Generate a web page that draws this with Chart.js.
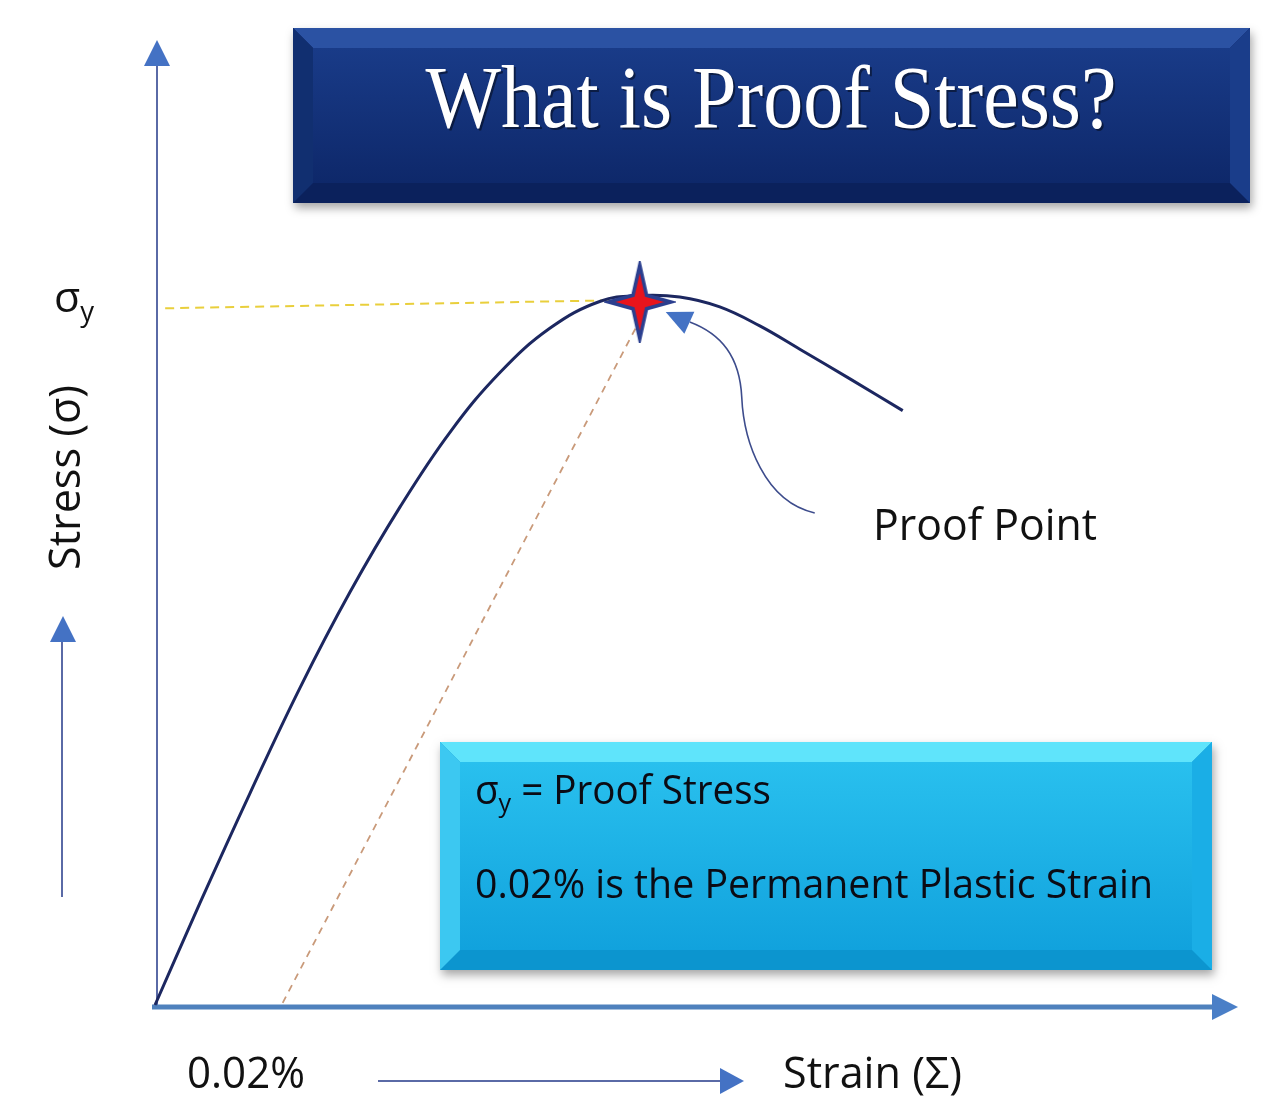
<!DOCTYPE html>
<html>
<head>
<meta charset="utf-8">
<title>What is Proof Stress?</title>
<script src="https://cdn.jsdelivr.net/npm/chart.js@4.4.1/dist/chart.umd.min.js"></script>
<style>
  html, body { margin: 0; padding: 0; background: #ffffff; }
  #wrap { width: 1264px; height: 1111px; position: relative; }
</style>
</head>
<body>
<div id="wrap"><canvas id="proofChart" width="1264" height="1111"></canvas></div>
<script>
// ── Data (strain in %, stress in arbitrary units, σy ≈ 100) ─────────────────
const strain = [0, 0.0071, 0.0150, 0.0228, 0.0307, 0.0386, 0.0464, 0.0543, 0.0622,
                0.0701, 0.0763, 0.0826, 0.0889, 0.0952, 0.1015, 0.1094, 0.1177];
const stress = [0, 14.5, 30.1, 44.9, 58.5, 70.6, 81.1, 89.6, 95.9,
                99.7, 100.5, 100.3, 98.9, 96.2, 92.9, 88.7, 84.2];

const yieldLineStrain = [0.0016, 0.0763];
const yieldLineStress = [98.7, 99.9];

const offsetLineStrain = [0.0201, 0.0763];
const offsetLineStress = [0.3, 97.0];

const proofStrain = [0.0763];
const proofStress = [99.6];

const strainMax = 0.17;
const stressMax = 136;

const FONT = "'Open Sans', 'Noto Sans', sans-serif";

// ── helpers ──────────────────────────────────────────────────────────────────
function zip(xs, ys) { return xs.map((x, i) => ({ x: x, y: ys[i] })); }

// draw runs of text squeezed to a target width (Calibri-like narrow look)
function drawRuns(ctx, runs, x, y, width, color) {
    let total = 0;
    runs.forEach(r => { ctx.font = r.size + 'px ' + (r.family || FONT); r.w = ctx.measureText(r.t).width; total += r.w; });
    const sx = width / total;
    ctx.save();
    ctx.translate(x, y);
    ctx.scale(sx, 1);
    ctx.fillStyle = color;
    ctx.textAlign = 'left';
    ctx.textBaseline = 'alphabetic';
    let cx = 0;
    runs.forEach(r => {
        ctx.font = r.size + 'px ' + (r.family || FONT);
        ctx.fillText(r.t, cx, r.dy || 0);
        cx += r.w;
    });
    ctx.restore();
}

function poly(ctx, pts, fill) {
    ctx.beginPath();
    ctx.moveTo(pts[0][0], pts[0][1]);
    for (let i = 1; i < pts.length; i++) ctx.lineTo(pts[i][0], pts[i][1]);
    ctx.closePath();
    ctx.fillStyle = fill;
    ctx.fill();
}

function bevelBox(ctx, x, y, w, h, b, c) {
    ctx.save();
    ctx.shadowColor = 'rgba(0,0,0,0.35)';
    ctx.shadowBlur = 9;
    ctx.shadowOffsetX = 2;
    ctx.shadowOffsetY = 5;
    ctx.fillStyle = c.bottom;
    ctx.fillRect(x, y, w, h);
    ctx.restore();
    poly(ctx, [[x, y], [x + w, y], [x + w - b, y + b], [x + b, y + b]], c.top);
    poly(ctx, [[x, y + h], [x + w, y + h], [x + w - b, y + h - b], [x + b, y + h - b]], c.bottom);
    poly(ctx, [[x, y], [x + b, y + b], [x + b, y + h - b], [x, y + h]], c.left);
    poly(ctx, [[x + w, y], [x + w - b, y + b], [x + w - b, y + h - b], [x + w, y + h]], c.right);
    const g = ctx.createLinearGradient(0, y + b, 0, y + h - b);
    g.addColorStop(0, c.face0);
    g.addColorStop(1, c.face1);
    ctx.fillStyle = g;
    ctx.fillRect(x + b, y + b, w - 2 * b, h - 2 * b);
}

function arrowHead(ctx, tipX, tipY, dirX, dirY, len, half, fill) {
    const n = Math.hypot(dirX, dirY);
    const ux = dirX / n, uy = dirY / n;
    const bx = tipX - ux * len, by = tipY - uy * len;
    ctx.beginPath();
    ctx.moveTo(tipX, tipY);
    ctx.lineTo(bx - uy * half, by + ux * half);
    ctx.lineTo(bx + uy * half, by - ux * half);
    ctx.closePath();
    ctx.fillStyle = fill;
    ctx.fill();
}

// 4-pointed star used as the proof point marker
function makeStar() {
    const c = document.createElement('canvas');
    c.width = 72; c.height = 82;
    const g = c.getContext('2d');
    const cx = 36, cy = 41, rv = 37, rh = 31, ri = 9;
    g.beginPath();
    g.moveTo(cx, cy - rv);
    g.lineTo(cx + ri * 0.75, cy - ri * 0.75);
    g.lineTo(cx + rh, cy);
    g.lineTo(cx + ri * 0.75, cy + ri * 0.75);
    g.lineTo(cx, cy + rv);
    g.lineTo(cx - ri * 0.75, cy + ri * 0.75);
    g.lineTo(cx - rh, cy);
    g.lineTo(cx - ri * 0.75, cy - ri * 0.75);
    g.closePath();
    g.fillStyle = '#e8141c';
    g.fill();
    g.lineWidth = 3.5;
    g.strokeStyle = '#2b3f8f';
    g.lineJoin = 'miter';
    g.stroke();
    return c;
}

// ── decorations plugin: boxes, axes arrows, labels ──────────────────────────
const decorations = {
    id: 'decorations',
    beforeDatasetsDraw(chart) {
        const ctx = chart.ctx;
        const xs = chart.scales.x, ys = chart.scales.y;
        const ox = xs.getPixelForValue(0), oy = ys.getPixelForValue(0);
        const top = chart.chartArea.top, right = chart.chartArea.right;

        // title box
        bevelBox(ctx, 293, 28, 957, 175, 20, {
            top: '#2b52a3', bottom: '#0b215c', left: '#112f70', right: '#1a3d8a',
            face0: '#193b88', face1: '#0e286a'
        });
        ctx.save();
        ctx.font = '80px "Liberation Serif", "Times New Roman", serif';
        ctx.textAlign = 'center';
        ctx.textBaseline = 'alphabetic';
        ctx.translate(771, 127);
        ctx.scale(1, 1.12);
        ctx.fillStyle = 'rgba(0,0,0,0.45)';
        ctx.fillText('What is Proof Stress?', 2, 2);
        ctx.fillStyle = '#ffffff';
        ctx.fillText('What is Proof Stress?', 0, 0);
        ctx.restore();

        // info box
        bevelBox(ctx, 440, 742, 772, 228, 20, {
            top: '#5fe4fb', bottom: '#0c95cf', left: '#3cc8f1', right: '#1aaee6',
            face0: '#29c0ee', face1: '#11a2dd'
        });
        drawRuns(ctx, [
            { t: 'σ', size: 40 },
            { t: 'y', size: 26, dy: 8 },
            { t: ' = Proof Stress', size: 40 }
        ], 475, 804, 296, '#0b0b14');
        drawRuns(ctx, [{ t: '0.02% is the Permanent Plastic Strain', size: 40 }], 475, 898, 678, '#0b0b14');

        // y axis with arrow
        ctx.save();
        ctx.strokeStyle = '#5a6aa6';
        ctx.lineWidth = 2;
        ctx.beginPath();
        ctx.moveTo(ox + 2, oy);
        ctx.lineTo(ox + 2, top + 20);
        ctx.stroke();
        arrowHead(ctx, ox + 2, top - 5, 0, -1, 26, 13, '#4472c4');

        // x axis with arrow
        ctx.strokeStyle = '#4f81bd';
        ctx.lineWidth = 5;
        ctx.beginPath();
        ctx.moveTo(ox - 3, oy + 2);
        ctx.lineTo(right - 20, oy + 2);
        ctx.stroke();
        arrowHead(ctx, right + 3, oy + 2, 1, 0, 26, 13, '#4a7fc7');
        ctx.restore();
    },
    afterDatasetsDraw(chart) {
        const ctx = chart.ctx;
        const star = chart.getDatasetMeta(3).data[0];
        const sx = star.x, sy = star.y;

        // curved pointer to the proof point
        ctx.save();
        ctx.strokeStyle = '#3d4c8c';
        ctx.lineWidth = 1.6;
        ctx.beginPath();
        ctx.moveTo(sx + 175, sy + 211);
        ctx.bezierCurveTo(sx + 125, sy + 200, sx + 104, sy + 140, sx + 102, sy + 95);
        ctx.bezierCurveTo(sx + 100, sy + 55, sx + 82, sy + 32, sx + 50, sy + 20);
        ctx.stroke();
        arrowHead(ctx, sx + 26, sy + 10, -24, -11, 26, 12, '#4472c4');
        ctx.restore();

        // labels
        drawRuns(ctx, [{ t: 'Proof Point', size: 44 }], 873, 540, 224, '#111111');
        drawRuns(ctx, [{ t: '0.02%', size: 44 }], 187, 1088, 118, '#111111');
        drawRuns(ctx, [{ t: 'Strain (Σ)', size: 44 }], 783, 1088, 179, '#111111');
        drawRuns(ctx, [{ t: 'σ', size: 42 }, { t: 'y', size: 27, dy: 9 }], 54, 312, 40, '#111111');

        ctx.save();
        ctx.translate(80, 570);
        ctx.rotate(-Math.PI / 2);
        drawRuns(ctx, [{ t: 'Stress (σ)', size: 44 }], 0, 0, 185, '#111111');
        ctx.restore();

        // side arrows next to the axis labels
        ctx.save();
        ctx.strokeStyle = '#5a6aa6';
        ctx.lineWidth = 2;
        ctx.beginPath();
        ctx.moveTo(62, 897);
        ctx.lineTo(62, 640);
        ctx.stroke();
        arrowHead(ctx, 63, 616, 0, -1, 26, 13, '#4472c4');
        ctx.beginPath();
        ctx.moveTo(378, 1081);
        ctx.lineTo(722, 1081);
        ctx.stroke();
        arrowHead(ctx, 744, 1081, 1, 0, 24, 13, '#4472c4');
        ctx.restore();
    }
};

// ── Chart ────────────────────────────────────────────────────────────────────
const ctxEl = document.getElementById('proofChart');
new Chart(ctxEl, {
    type: 'line',
    data: {
        datasets: [
            {
                label: 'Stress-strain curve',
                data: zip(strain, stress),
                borderColor: '#1c2760',
                borderWidth: 3,
                tension: 0.4,
                pointRadius: 0,
                fill: false,
                clip: false,
                order: 1
            },
            {
                label: 'σy level',
                data: zip(yieldLineStrain, yieldLineStress),
                borderColor: '#e9cf3c',
                borderWidth: 2,
                borderDash: [9, 6],
                pointRadius: 0,
                clip: false,
                order: 3
            },
            {
                label: '0.02% offset line',
                data: zip(offsetLineStrain, offsetLineStress),
                borderColor: '#c99a7a',
                borderWidth: 1.8,
                borderDash: [7, 6],
                pointRadius: 0,
                clip: false,
                order: 2
            },
            {
                label: 'Proof point',
                data: zip(proofStrain, proofStress),
                showLine: false,
                pointStyle: makeStar(),
                pointRadius: 20,
                clip: false,
                order: 0
            }
        ]
    },
    options: {
        responsive: false,
        animation: false,
        devicePixelRatio: 1,
        layout: { padding: { left: 155, right: 29, top: 45, bottom: 106 } },
        scales: {
            x: { type: 'linear', min: 0, max: strainMax, display: false },
            y: { type: 'linear', min: 0, max: stressMax, display: false }
        },
        plugins: {
            legend: { display: false },
            tooltip: { enabled: false }
        }
    },
    plugins: [decorations]
});
</script>
</body>
</html>
